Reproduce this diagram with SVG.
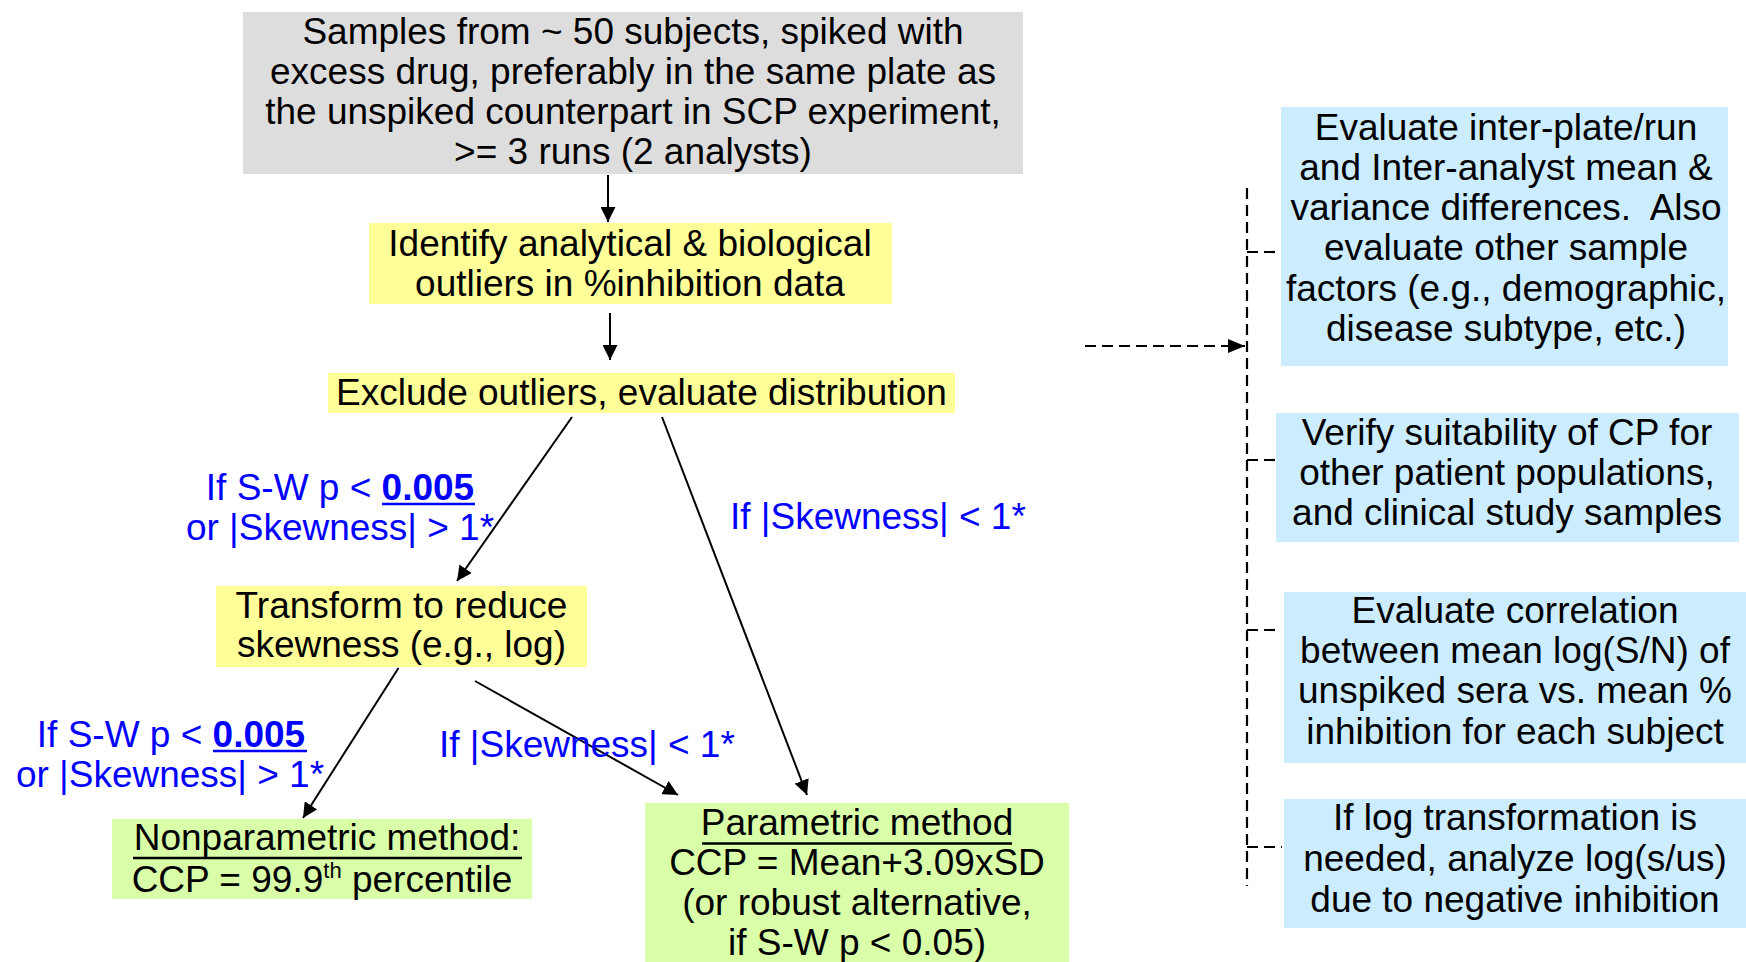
<svg xmlns="http://www.w3.org/2000/svg" width="1746" height="962" viewBox="0 0 1746 962">
  <style>
    text { font-family: "Liberation Sans", Arial, sans-serif; font-size: 37px; fill: #000; }
    .c { text-anchor: middle; }
    .blue { fill: #0000FF; }
    .b { font-weight: bold; }
    .gray { fill: #DDDDDD; }
    .yellow { fill: #FFFF99; }
    .green { fill: #D9FFA9; }
    .lblue { fill: #CCECFF; }
    .conn { stroke: #000; stroke-width: 2; fill: none; }
    .dash { stroke: #000; stroke-width: 2.2; fill: none; stroke-dasharray: 11 6; }
    .ul { stroke: #000; stroke-width: 2.5; }
    .ulb { stroke: #0000FF; stroke-width: 2.5; }
  </style>
  <defs>
    <marker id="ah" markerUnits="userSpaceOnUse" markerWidth="15" markerHeight="15" refX="15" refY="7.5" orient="auto">
      <path d="M0,0 L15,7.5 L0,15 z" fill="#000"/>
    </marker>
    <marker id="ahd" markerUnits="userSpaceOnUse" markerWidth="17" markerHeight="14" refX="17" refY="7" orient="auto">
      <path d="M0,0 L17,7 L0,14 z" fill="#000"/>
    </marker>
  </defs>

  <g id="connectors">
    <line class="conn" x1="608" y1="175" x2="608" y2="222" marker-end="url(#ah)"/>
    <line class="conn" x1="610" y1="313" x2="610" y2="360" marker-end="url(#ah)"/>
    <line class="conn" x1="572" y1="417" x2="457" y2="581" marker-end="url(#ah)"/>
    <line class="conn" x1="662" y1="417" x2="807" y2="795" marker-end="url(#ah)"/>
    <line class="conn" x1="398.5" y1="668" x2="303" y2="818" marker-end="url(#ah)"/>
    <line class="conn" x1="475" y1="681" x2="678" y2="795" marker-end="url(#ah)"/>
    <line class="dash" x1="1085" y1="346" x2="1245" y2="346" marker-end="url(#ahd)"/>
    <line class="dash" x1="1247" y1="188" x2="1247" y2="886"/>
    <line class="dash" x1="1247" y1="252" x2="1275" y2="252"/>
    <line class="dash" x1="1247" y1="460" x2="1275" y2="460"/>
    <line class="dash" x1="1247" y1="630" x2="1278" y2="630"/>
    <line class="dash" x1="1247" y1="847" x2="1282" y2="847"/>
  </g>

  <g id="samples">
    <rect class="gray" x="243" y="12" width="780" height="162"/>
    <text class="c" x="633" y="44">Samples from ~ 50 subjects, spiked with</text>
    <text class="c" x="633" y="84">excess drug, preferably in the same plate as</text>
    <text class="c" x="633" y="124">the unspiked counterpart in SCP experiment,</text>
    <text class="c" x="633" y="164">&gt;= 3 runs (2 analysts)</text>
  </g>

  <g id="identify">
    <rect class="yellow" x="369" y="223" width="523" height="81"/>
    <text class="c" x="630" y="256">Identify analytical &amp; biological</text>
    <text class="c" x="630" y="296">outliers in %inhibition data</text>
  </g>

  <g id="exclude">
    <rect class="yellow" x="328" y="373" width="627" height="40"/>
    <text class="c" x="641.5" y="405">Exclude outliers, evaluate distribution</text>
  </g>

  <g id="transform">
    <rect class="yellow" x="216" y="586" width="371" height="81"/>
    <text class="c" x="401.5" y="618">Transform to reduce</text>
    <text class="c" x="401.5" y="657">skewness (e.g., log)</text>
  </g>

  <g id="nonparametric">
    <rect class="green" x="112" y="819" width="420" height="80"/>
    <text class="c" x="327" y="850">Nonparametric method:</text>
    <line class="ul" x1="133" y1="858" x2="522" y2="858"/>
    <text class="c" x="322" y="892">CCP = 99.9<tspan font-size="22" dy="-14">th</tspan><tspan dy="14"> percentile</tspan></text>
  </g>

  <g id="parametric">
    <rect class="green" x="645" y="803" width="424" height="159"/>
    <text class="c" x="857" y="835">Parametric method</text>
    <line class="ul" x1="702" y1="843.5" x2="1012" y2="843.5"/>
    <text class="c" x="857" y="875">CCP = Mean+3.09xSD</text>
    <text class="c" x="857" y="915">(or robust alternative,</text>
    <text class="c" x="857" y="955">if S-W p &lt; 0.05)</text>
  </g>

  <g id="label-sw-1">
    <text class="c blue" x="340" y="500">If S-W p &lt; <tspan class="b blue">0.005</tspan></text>
    <line class="ulb" x1="382" y1="504" x2="475" y2="504"/>
    <text class="c blue" x="340" y="540">or |Skewness| &gt; 1*</text>
  </g>

  <g id="label-skew-1">
    <text class="blue" x="730" y="529">If |Skewness| &lt; 1*</text>
  </g>

  <g id="label-sw-2">
    <text class="c blue" x="171" y="747">If S-W p &lt; <tspan class="b blue">0.005</tspan></text>
    <line class="ulb" x1="213" y1="751" x2="307" y2="751"/>
    <text class="c blue" x="170" y="787">or |Skewness| &gt; 1*</text>
  </g>

  <g id="label-skew-2">
    <text class="blue" x="439" y="757">If |Skewness| &lt; 1*</text>
  </g>

  <g id="evaluate-inter">
    <rect class="lblue" x="1281" y="107" width="447" height="259"/>
    <text class="c" x="1506" y="140">Evaluate inter-plate/run</text>
    <text class="c" x="1506" y="180">and Inter-analyst mean &amp;</text>
    <text class="c" x="1506" y="220" xml:space="preserve">variance differences.  Also</text>
    <text class="c" x="1506" y="260">evaluate other sample</text>
    <text class="c" x="1506" y="301">factors (e.g., demographic,</text>
    <text class="c" x="1506" y="341">disease subtype, etc.)</text>
  </g>

  <g id="verify">
    <rect class="lblue" x="1276" y="413" width="463" height="129"/>
    <text class="c" x="1507" y="445">Verify suitability of CP for</text>
    <text class="c" x="1507" y="485">other patient populations,</text>
    <text class="c" x="1507" y="525">and clinical study samples</text>
  </g>

  <g id="correlation">
    <rect class="lblue" x="1284" y="592" width="462" height="171"/>
    <text class="c" x="1515" y="623">Evaluate correlation</text>
    <text class="c" x="1515" y="663">between mean log(S/N) of</text>
    <text class="c" x="1515" y="703">unspiked sera vs. mean %</text>
    <text class="c" x="1515" y="744">inhibition for each subject</text>
  </g>

  <g id="log-transform">
    <rect class="lblue" x="1284" y="799" width="462" height="129"/>
    <text class="c" x="1515" y="830">If log transformation is</text>
    <text class="c" x="1515" y="871">needed, analyze log(s/us)</text>
    <text class="c" x="1515" y="912">due to negative inhibition</text>
  </g>
</svg>
